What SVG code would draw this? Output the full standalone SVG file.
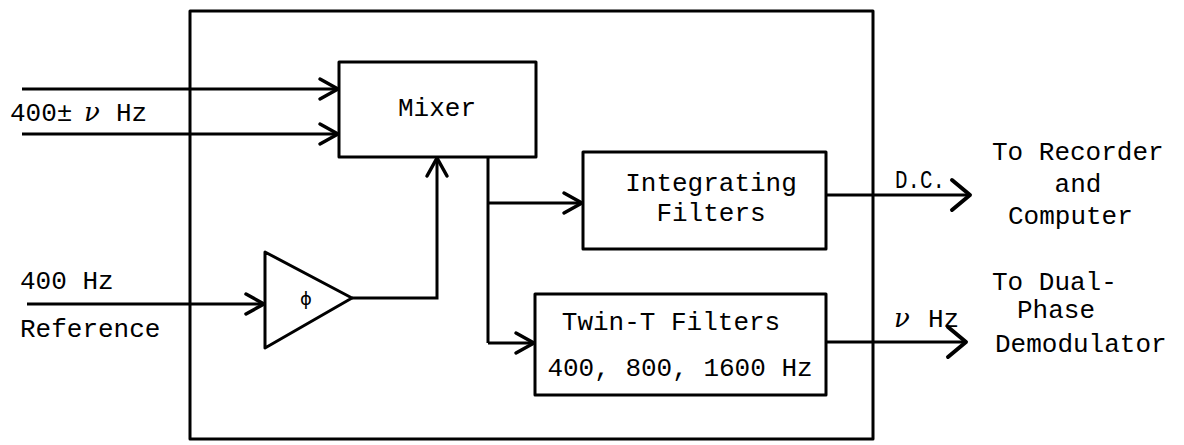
<svg xmlns="http://www.w3.org/2000/svg" width="1184" height="445" viewBox="0 0 1184 445">
<style>
.box{fill:none;stroke:#000;stroke-width:3;stroke-linejoin:round}
.ln{fill:none;stroke:#000;stroke-width:3}
.t{font-family:"Liberation Mono","Courier New",monospace;font-size:26px;fill:#000}
.g{font-family:"DejaVu Serif","Liberation Serif",serif;font-style:italic;font-size:26px;fill:#000}
</style>
<defs>
<marker id="a" markerUnits="userSpaceOnUse" viewBox="-22 -13 24 26" markerWidth="24" markerHeight="26" refX="0" refY="0" orient="auto" overflow="visible">
<path d="M-18,-10 L0,0 L-18,10" fill="none" stroke="#000" stroke-width="3.5" stroke-linecap="round" stroke-linejoin="round"/>
</marker>
<marker id="b" markerUnits="userSpaceOnUse" viewBox="-22 -17 24 34" markerWidth="24" markerHeight="34" refX="0" refY="0" orient="auto" overflow="visible">
<path d="M-18,-15 L0,0 L-18,15" fill="none" stroke="#000" stroke-width="4" stroke-linecap="round" stroke-linejoin="round"/>
</marker>
</defs>
<rect width="1184" height="445" fill="#fff"/>
<g id="frame"><rect class="box" x="190" y="11" width="683" height="428"/></g>
<g id="connectors">
<line class="ln" x1="22" y1="89" x2="338" y2="89" marker-end="url(#a)"/>
<line class="ln" x1="22" y1="134" x2="338" y2="134" marker-end="url(#a)"/>
<line class="ln" x1="27" y1="304" x2="264" y2="304" marker-end="url(#a)"/>
<polyline class="ln" points="352,298 437,298 437,158" marker-end="url(#a)"/>
<line class="ln" x1="488" y1="157" x2="488" y2="343"/>
<line class="ln" x1="488" y1="203" x2="582" y2="203" marker-end="url(#a)"/>
<line class="ln" x1="488" y1="343" x2="534" y2="343" marker-end="url(#a)"/>
<line class="ln" x1="826" y1="195" x2="970" y2="195" marker-end="url(#b)"/>
<line class="ln" x1="826" y1="342" x2="966" y2="342" marker-end="url(#b)"/>
</g>
<g id="mixer"><rect class="box" x="339" y="62" width="197" height="95"/><text class="t" x="437" y="116" text-anchor="middle">Mixer</text></g>
<g id="phase"><polygon class="box" points="265,252 352,298 265,348"/><text x="306" y="305" text-anchor="middle" font-family="DejaVu Sans,sans-serif" font-size="18">ϕ</text></g>
<g id="integrating"><rect class="box" x="583" y="152" width="243" height="97"/><text class="t" x="711" y="191" text-anchor="middle">Integrating</text><text class="t" x="711" y="221" text-anchor="middle">Filters</text></g>
<g id="twint"><rect class="box" x="535" y="294" width="291" height="101"/><text class="t" x="671" y="330" text-anchor="middle">Twin-T Filters</text><text class="t" x="680" y="376" text-anchor="middle">400, 800, 1600 Hz</text></g>
<g id="labels">
<text class="t" x="10" y="121">400±</text><text class="g" x="84" y="121">ν</text><text class="t" x="116" y="121">Hz</text>
<text class="t" x="20" y="289">400 Hz</text>
<text class="t" x="20" y="337">Reference</text>
<text class="t" x="895" y="188" textLength="50" lengthAdjust="spacingAndGlyphs">D.C.</text>
<text class="g" x="894" y="327">ν</text><text class="t" x="928" y="327">Hz</text>
<text class="t" x="992" y="160">To Recorder</text>
<text class="t" x="1078" y="192" text-anchor="middle">and</text>
<text class="t" x="1008" y="224">Computer</text>
<text class="t" x="992" y="290">To Dual-</text>
<text class="t" x="1017" y="318">Phase</text>
<text class="t" x="995" y="352">Demodulator</text>
</g>
</svg>
